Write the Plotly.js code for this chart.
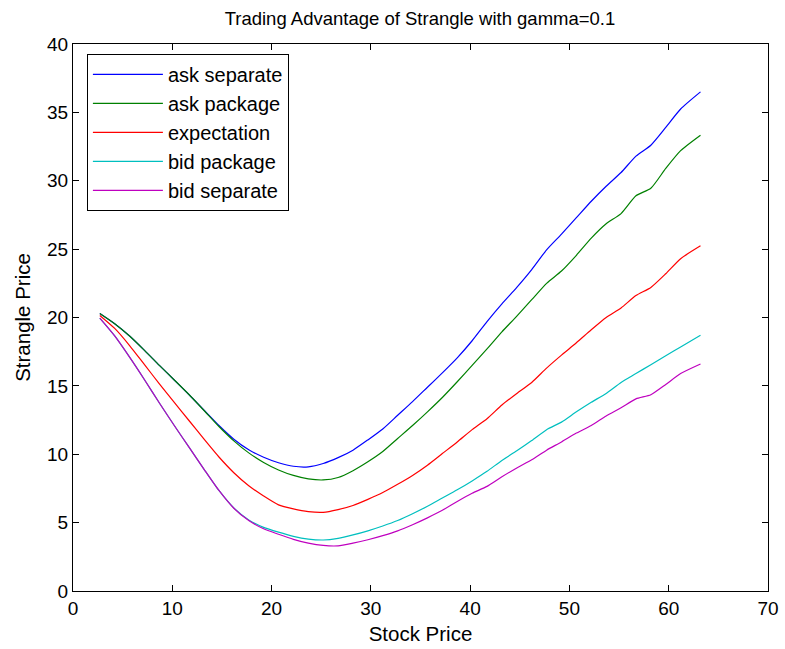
<!DOCTYPE html>
<html>
<head>
<meta charset="utf-8">
<script src="https://cdn.plot.ly/plotly-3.0.1.min.js"></script>
<style>
  html, body { margin: 0; padding: 0; background: #fff; }
  #chart { width: 785px; height: 649px; }
</style>
</head>
<body>
<div id="chart"></div>
<script>
// Stock price grid
const stockPrice = [2.7, 4.2, 5.7, 7.2, 8.7, 10.2, 11.7, 13.2, 14.7, 16.2, 17.7, 19.2, 20.7, 22.2, 23.7, 25.2, 26.7, 28.2, 29.7, 31.2, 32.7, 34.2, 35.7, 37.2, 38.7, 40.2, 41.7, 43.2, 44.7, 46.2, 47.7, 49.2, 50.7, 52.2, 53.7, 55.2, 56.7, 58.2, 59.7, 61.2, 63.2];

// Strangle prices per quote type
const askSeparate = [20.3, 19.55, 18.65, 17.6, 16.5, 15.43, 14.35, 13.22, 12.1, 11.1, 10.33, 9.78, 9.38, 9.12, 9.08, 9.32, 9.75, 10.3, 11.05, 11.85, 12.85, 13.85, 14.9, 15.95, 17.05, 18.3, 19.7, 21.0, 22.2, 23.5, 24.95, 26.1, 27.3, 28.5, 29.6, 30.6, 31.8, 32.6, 33.9, 35.25, 36.5];
const askPackage = [20.3, 19.55, 18.65, 17.6, 16.5, 15.43, 14.35, 13.2, 12.03, 10.98, 10.1, 9.4, 8.85, 8.45, 8.2, 8.12, 8.3, 8.8, 9.45, 10.2, 11.15, 12.1, 13.1, 14.15, 15.3, 16.5, 17.7, 18.95, 20.1, 21.3, 22.5, 23.4, 24.55, 25.8, 26.85, 27.6, 28.9, 29.45, 30.9, 32.2, 33.33];
const expectation = [20.15, 19.2, 17.95, 16.55, 15.15, 13.8, 12.45, 11.1, 9.8, 8.65, 7.7, 6.95, 6.3, 6.0, 5.8, 5.75, 5.95, 6.25, 6.7, 7.2, 7.8, 8.45, 9.2, 10.05, 10.9, 11.8, 12.6, 13.6, 14.45, 15.25, 16.3, 17.25, 18.15, 19.1, 20.0, 20.7, 21.6, 22.2, 23.2, 24.3, 25.24];
const bidPackage = [19.95, 18.65, 17.1, 15.45, 13.75, 12.1, 10.5, 8.9, 7.35, 6.07, 5.2, 4.65, 4.3, 4.0, 3.8, 3.73, 3.85, 4.1, 4.4, 4.75, 5.15, 5.65, 6.2, 6.8, 7.4, 8.05, 8.75, 9.55, 10.25, 11.0, 11.8, 12.35, 13.1, 13.8, 14.45, 15.25, 15.9, 16.55, 17.2, 17.85, 18.7];
const bidSeparate = [19.95, 18.65, 17.1, 15.45, 13.75, 12.1, 10.5, 8.9, 7.35, 6.05, 5.15, 4.55, 4.15, 3.78, 3.5, 3.33, 3.3, 3.5, 3.75, 4.05, 4.4, 4.85, 5.35, 5.9, 6.55, 7.15, 7.65, 8.35, 9.0, 9.6, 10.3, 10.9, 11.55, 12.1, 12.8, 13.4, 14.05, 14.35, 15.1, 15.9, 16.6];

const seriesNames = ['ask separate', 'ask package', 'expectation', 'bid package', 'bid separate'];
const seriesValues = [askSeparate, askPackage, expectation, bidPackage, bidSeparate];
const seriesColors = ['#0000ff', '#008000', '#ff0000', '#00bfbf', '#bf00bf'];

const traces = seriesNames.map((name, i) => ({
  type: 'scatter',
  mode: 'lines',
  name: name,
  x: stockPrice,
  y: seriesValues[i],
  line: { color: seriesColors[i], width: 1.2, shape: 'spline', smoothing: 0.6 }
}));

const fontFamily = 'Liberation Sans, Arial, sans-serif';

const axisCommon = {
  showgrid: false,
  zeroline: false,
  showline: true,
  linecolor: '#000',
  linewidth: 1,
  mirror: 'ticks',
  ticks: 'inside',
  ticklen: 6,
  tickcolor: '#000',
  tickfont: { family: fontFamily, size: 19, color: '#000' }
};

const layout = {
  width: 785,
  height: 649,
  margin: { l: 73, r: 17, t: 44, b: 58 },
  paper_bgcolor: '#fff',
  plot_bgcolor: '#fff',
  title: {
    text: 'Trading Advantage of Strangle with gamma=0.1',
    font: { family: fontFamily, size: 18.5, color: '#000' },
    x: 0.535, xanchor: 'center',
    y: 0.972, yanchor: 'middle'
  },
  xaxis: Object.assign({}, axisCommon, {
    range: [0, 70],
    dtick: 10,
    title: { text: 'Stock Price', font: { family: fontFamily, size: 20.5, color: '#000' }, standoff: 8 }
  }),
  yaxis: Object.assign({}, axisCommon, {
    range: [0, 40],
    dtick: 5,
    title: { text: 'Strangle Price', font: { family: fontFamily, size: 20.5, color: '#000' }, standoff: 10 }
  }),
  showlegend: true,
  legend: {
    x: 0.02, y: 0.982, xanchor: 'left', yanchor: 'top',
    bgcolor: '#fff',
    bordercolor: '#000',
    borderwidth: 1,
    itemwidth: 70,
    font: { family: fontFamily, size: 20, color: '#000' },
    tracegroupgap: 0
  }
};

Plotly.newPlot('chart', traces, layout, { staticPlot: true, displayModeBar: false });
</script>
</body>
</html>
